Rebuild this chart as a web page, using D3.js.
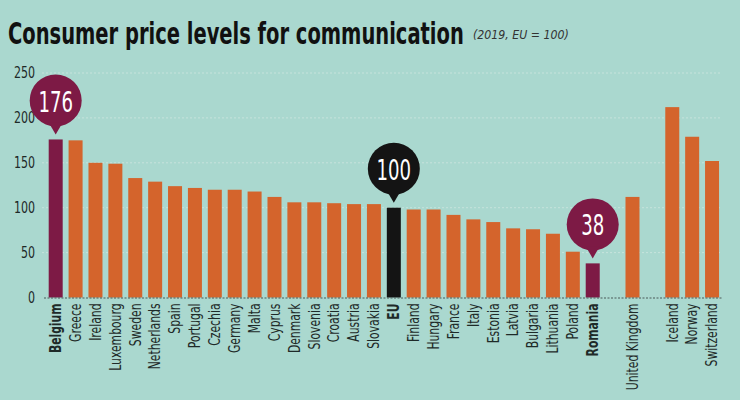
<!DOCTYPE html>
<html><head><meta charset="utf-8">
<script src="https://cdn.jsdelivr.net/npm/d3@7"></script>
<style>
html,body{margin:0;padding:0;background:#aad8cf;}
svg{display:block;}
</style></head>
<body>
<svg id="chart" width="740" height="400"></svg>
<script>
const categories = ["Belgium","Greece","Ireland","Luxembourg","Sweden","Netherlands","Spain","Portugal","Czechia","Germany","Malta","Cyprus","Denmark","Slovenia","Croatia","Austria","Slovakia","EU","Finland","Hungary","France","Italy","Estonia","Latvia","Bulgaria","Lithuania","Poland","Romania","United Kingdom","Iceland","Norway","Switzerland"];
const values = [176,175,150,149,133,129,124,122,120,120,118,112,106,106,105,104,104,100,98,98,92,87,84,77,76,71,51,38,112,212,179,152];
const gapBefore = ["United Kingdom","Iceland"];
const highlighted = ["Belgium","Romania"];
const reference = ["EU"];
const callouts = ["Belgium","EU","Romania"];
const yTicks = [0,50,100,150,200,250];
const title = "Consumer price levels for communication";
const subtitle = "(2019, EU = 100)";

const FONT = "'DejaVu Sans Condensed','Liberation Sans Narrow',sans-serif";
const C_BG = "#aad8cf", C_BAR = "#d4642c", C_HI = "#7d1a45", C_EU = "#141414";

const svg = d3.select("#chart");
svg.append("rect").attr("width",740).attr("height",400).attr("fill",C_BG);

const slots = [];
categories.forEach((c,i)=>{ if(gapBefore.includes(c)) slots.push("__gap"+i); slots.push(c); });

const x = d3.scaleBand().domain(slots).range([45.75,722]).paddingInner(0.296).paddingOuter(0.148);
const y = d3.scaleLinear().domain([0,250]).range([297.5,73]);

// grid
svg.append("g").selectAll("line").data(yTicks.filter(d=>d>0)).join("line")
  .attr("x1",42).attr("x2",722).attr("y1",d=>y(d)).attr("y2",d=>y(d))
  .attr("stroke","#c6e3dc").attr("stroke-width",1).attr("stroke-dasharray","2,2");

// y axis labels
const yAxis = d3.axisLeft(y).tickValues(yTicks).tickSize(0).tickPadding(0);
const ya = svg.append("g").attr("transform","translate(35,0)").call(yAxis);
ya.select(".domain").remove();
ya.selectAll("text").attr("font-family",FONT).attr("font-size",15).attr("fill","#1e2a28")
  .attr("x",0).attr("transform","scale(0.82,1)");

// bars
const data = categories.map((c,i)=>({c, v: values[i]}));
svg.append("g").selectAll("rect").data(data).join("rect")
  .attr("x",d=>x(d.c)).attr("width",x.bandwidth())
  .attr("y",d=>y(d.v)).attr("height",d=>y(0)-y(d.v))
  .attr("fill",d=>highlighted.includes(d.c)?C_HI:(reference.includes(d.c)?C_EU:C_BAR));

// baseline
svg.append("line").attr("x1",44).attr("x2",722).attr("y1",y(0)+0.5).attr("y2",y(0)+0.5)
  .attr("stroke","#4a5a58").attr("stroke-width",1).attr("stroke-dasharray","2,1.5");

// x labels
const xa = d3.axisBottom(x).tickValues(categories).tickSize(0).tickPadding(0);
const xg = svg.append("g").attr("transform",`translate(0,${y(0)})`).call(xa);
xg.select(".domain").remove();
xg.selectAll("text")
  .attr("font-family",FONT).attr("font-size",15).attr("fill","#1e2a28")
  .attr("font-weight",d=>(highlighted.includes(d)||reference.includes(d))?"bold":"normal")
  .attr("text-anchor","end")
  .attr("dy","0.35em")
  .attr("x",0).attr("y",0)
  .attr("transform","translate(0,6) rotate(-90) scale(0.8,1)");

// callouts
const cg = svg.append("g");
data.filter(d=>callouts.includes(d.c)).forEach(d=>{
  const cx = x(d.c)+x.bandwidth()/2;
  const top = y(d.v);
  const cy = top-39, r = 26;
  const col = reference.includes(d.c)?C_EU:C_HI;
  cg.append("circle").attr("cx",cx).attr("cy",cy).attr("r",r).attr("fill",col);
  cg.append("path").attr("d",`M${cx-7},${cy+r-4}L${cx+7},${cy+r-4}L${cx},${top-5}Z`).attr("fill",col);
  cg.append("text").attr("x",0).attr("y",0).attr("dy","0.36em").attr("text-anchor","middle")
    .attr("transform",`translate(${cx},${cy+1}) scale(0.72,1)`)
    .attr("font-family",FONT).attr("font-size",28).attr("fill","#fff").text(d.v);
});

// title
const tt = svg.append("text").attr("x",0).attr("y",0).attr("font-family",FONT).attr("font-weight","bold")
  .attr("font-size",30).attr("fill","#111").text(title);
const tw = tt.node().getComputedTextLength();
tt.attr("transform",`translate(8,44) scale(${456/tw},1)`);
const st = svg.append("text").attr("x",0).attr("y",0).attr("font-family",FONT).attr("font-style","italic")
  .attr("font-size",12.5).attr("fill","#333").text(subtitle);
const sw = st.node().getComputedTextLength();
st.attr("transform",`translate(473,39) scale(${96/sw},1)`);
</script>
</body></html>
